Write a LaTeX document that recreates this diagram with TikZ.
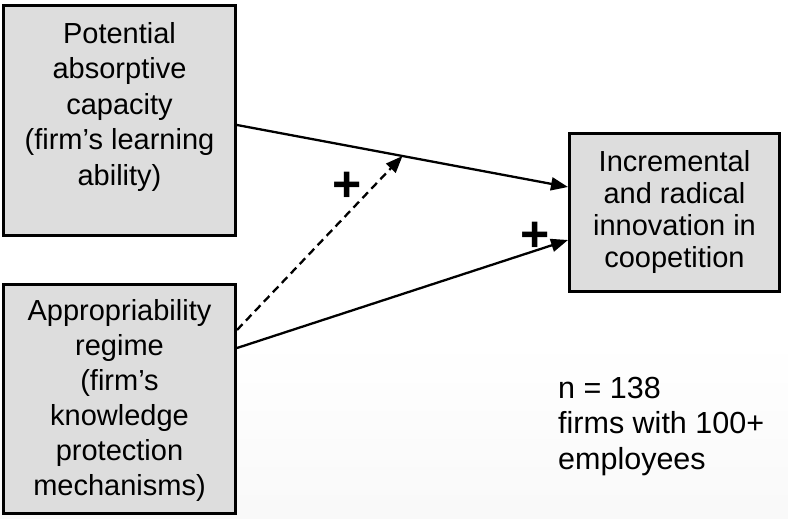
\documentclass[tikz,border=0pt]{standalone}
\usepackage{fontspec}
\setmainfont{Liberation Sans}
\usetikzlibrary{arrows.meta,calc}
\definecolor{boxfill}{RGB}{221,221,221}

\begin{document}
\begin{tikzpicture}[x=1pt,y=-1pt,
  panel/.style={draw=black, line width=3pt, fill=boxfill, inner sep=0pt},
  boxtext/.style={align=center, anchor=base, inner sep=0pt},
  link/.style={line width=2.3pt, -{Triangle[length=17pt,width=13pt]}},
  moderate/.style={link, dash pattern=on 8pt off 5pt},
  sign/.style={font=\fontsize{50}{50}\selectfont\bfseries, inner sep=0pt},
  note/.style={align=left, anchor=base west, inner sep=0pt,
    font=\fontsize{30.5}{35.5}\selectfont}]

\useasboundingbox (0,0) rectangle (788,519);
\fill[top color=white, bottom color=black!2.5] (0,340) rectangle (788,519);

% the three construct boxes
\node[panel, minimum width=232pt, minimum height=230pt] (b1) at (119.5,120.5) {};
\node[panel, minimum width=232pt, minimum height=229pt] (b2) at (119.5,399) {};
\node[panel, minimum width=210pt, minimum height=158pt] (b3) at (674.5,212.5) {};

% box texts, placed by the baseline of their last line
\node[boxtext, font=\fontsize{29}{35.5}\selectfont] (t1) at (119.5,185)
  {Potential\\absorptive\\capacity\\(firm’s learning\\ability)};
\node[boxtext, font=\fontsize{29}{35}\selectfont] (t2) at (119.5,495)
  {Appropriability\\regime\\(firm’s\\knowledge\\protection\\mechanisms)};
\node[boxtext, font=\fontsize{29}{32}\selectfont] (t3) at (674.5,267)
  {Incremental\\and radical\\innovation in\\coopetition};

% connector end points on the box borders
\coordinate (a1) at ([yshift=-4.5pt]b1.east);
\coordinate (z1) at ([yshift=25.5pt]b3.west);
\coordinate (a2) at ([yshift=51pt]b2.east);
\coordinate (z2) at ([yshift=-27.5pt]b3.west);
\coordinate (a3) at ([yshift=69pt]b2.east);
\coordinate (z3) at ($(a1)!0.5!(z1)$);

\draw[link] (a1) -- (z1);
\draw[link] (a2) -- (z2);
\draw[moderate] (a3) -- (z3);

\node[sign] (s1) at (347,187) {+};
\node[sign] (s2) at (535,237) {+};

\node[note] (n1) at (558,469) {n = 138\\firms with 100+\\employees};
\end{tikzpicture}
\end{document}
